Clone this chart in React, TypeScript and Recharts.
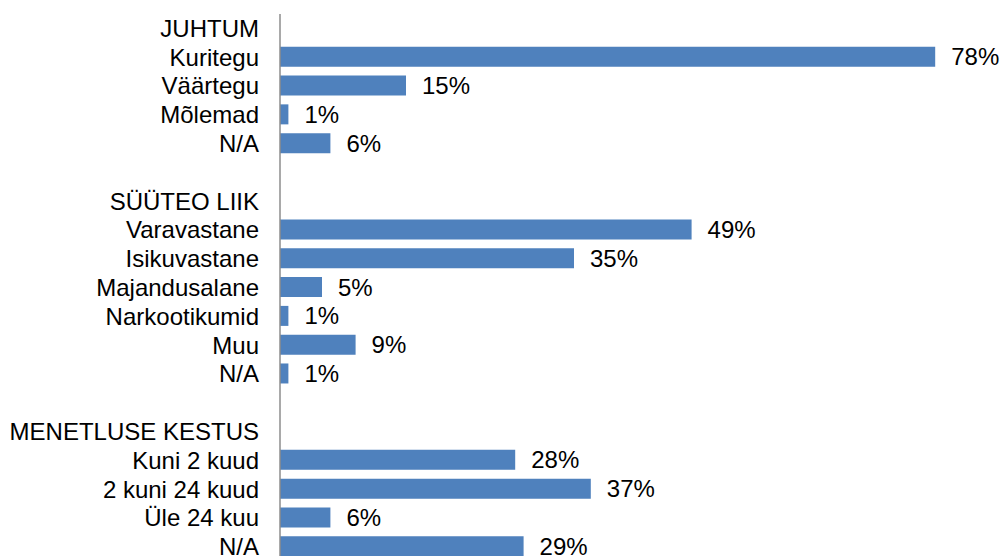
import { BarChart, Bar, XAxis, YAxis, LabelList } from "recharts"

// one row per line of the chart; header and spacer rows have no value
const labels = [
  "JUHTUM",
  "Kuritegu",
  "Väärtegu",
  "Mõlemad",
  "N/A",
  "",
  "SÜÜTEO LIIK",
  "Varavastane",
  "Isikuvastane",
  "Majandusalane",
  "Narkootikumid",
  "Muu",
  "N/A",
  "",
  "MENETLUSE KESTUS",
  "Kuni 2 kuud",
  "2 kuni 24 kuud",
  "Üle 24 kuu",
  "N/A",
]

const values: (number | null)[] = [
  null, 78, 15, 1, 6,
  null,
  null, 49, 35, 5, 1, 9, 1,
  null,
  null, 28, 37, 6, 29,
]

const data = labels.map((label, i) => ({ id: String(i), label, value: values[i] }))

const font = "'Liberation Sans', Arial, sans-serif"

export default function App() {
  return (
    <div style={{ position: "absolute", left: 0, top: 0, fontFamily: font }}>
      <BarChart
        width={1004}
        height={571}
        data={data}
        layout="vertical"
        margin={{ top: 14, right: 52, bottom: 10, left: 0 }}
      >
        <XAxis type="number" domain={[0, 80]} hide />
        <YAxis
          type="category"
          dataKey="id"
          width={280}
          tickFormatter={(id: string) => labels[Number(id)]}
          tickLine={false}
          tickSize={0}
          tickMargin={21}
          axisLine={{ stroke: "#8c8c8c", strokeWidth: 1.5 }}
          tick={{ fill: "#000", fontSize: 24, fontFamily: font }}
          interval={0}
        />
        <Bar dataKey="value" fill="#4F81BD" barSize={20} isAnimationActive={false}>
          <LabelList
            dataKey="value"
            position="right"
            offset={16}
            formatter={(v: any) => (v == null ? "" : `${v}%`)}
            style={{ fill: "#000", fontSize: 24, fontFamily: font }}
          />
        </Bar>
      </BarChart>
    </div>
  )
}
